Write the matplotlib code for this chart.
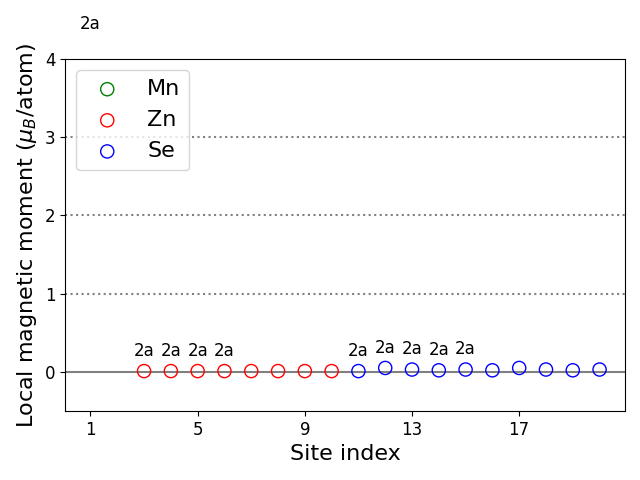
import numpy as np
import matplotlib.pyplot as plt

mn_sites = [1]
mn_moments = [4.19]
zn_sites = [3, 4, 5, 6, 7, 8, 9, 10]
zn_moments = [0.01, 0.01, 0.01, 0.01, 0.01, 0.01, 0.01, 0.01]
se_sites = [11, 12, 13, 14, 15, 16, 17, 18, 19, 20]
se_moments = [0.01, 0.05, 0.03, 0.02, 0.03, 0.02, 0.05, 0.03, 0.02, 0.03]

# sites that carry a Wyckoff label
label_sites = [1, 3, 4, 5, 6, 11, 12, 13, 14, 15]
label_text = "2a"

fig, ax = plt.subplots(figsize=(6.4, 4.8), dpi=100)

ax.scatter(mn_sites, mn_moments, s=90, facecolors='none', edgecolors='green', label='Mn')
ax.scatter(zn_sites, zn_moments, s=90, facecolors='none', edgecolors='red', label='Zn')
ax.scatter(se_sites, se_moments, s=90, facecolors='none', edgecolors='blue', label='Se')

all_sites = mn_sites + zn_sites + se_sites
all_moments = mn_moments + zn_moments + se_moments
for s, m in zip(all_sites, all_moments):
    if s in label_sites:
        ax.text(s, m + 0.26, label_text, ha='center', va='center', fontsize=12)

ax.axhline(0, color='gray', lw=1.5, zorder=0)
for yy in [1, 2, 3]:
    ax.axhline(yy, color='gray', ls=':', lw=1.5, zorder=0)

ax.set_ylim(-0.5, 4)
ax.set_xticks([1, 5, 9, 13, 17])
ax.set_yticks([0, 1, 2, 3, 4])
ax.tick_params(labelsize=12)
ax.set_xlabel('Site index', fontsize=16)
ax.set_ylabel(r'Local magnetic moment ($\mu_B$/atom)', fontsize=16)
ax.legend(loc='upper left', fontsize=16)

fig.subplots_adjust(left=0.1016, right=0.9766, bottom=0.1438, top=0.877)
plt.savefig('out.png', dpi=100)
